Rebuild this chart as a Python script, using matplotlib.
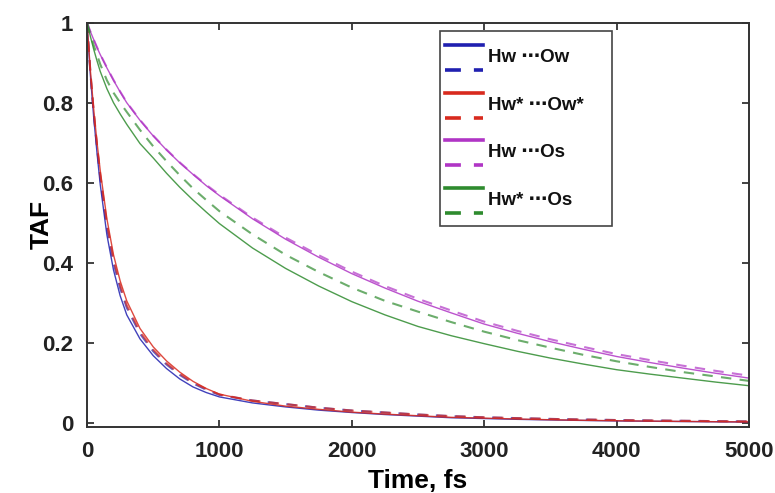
import matplotlib.pyplot as plt
from matplotlib.patches import Rectangle

plt.rcParams['font.family'] = ['Liberation Sans', 'DejaVu Sans']

# время, фс
t = [0, 25, 50, 75, 100, 150, 200, 250, 300, 400, 500, 600, 700, 800, 900, 1000,
     1250, 1500, 1750, 2000, 2250, 2500, 2750, 3000, 3250, 3500, 3750, 4000,
     4250, 4500, 4750, 5000]

# быстрые кривые (Hw...Ow, Hw*...Ow*)
hw_ow = [1.0, 0.87, 0.765, 0.676, 0.595, 0.47, 0.382, 0.318, 0.27, 0.21, 0.168, 0.136,
         0.11, 0.09, 0.076, 0.065, 0.05, 0.04, 0.032, 0.026, 0.021, 0.017, 0.013, 0.011,
         0.009, 0.0075, 0.0062, 0.005, 0.0042, 0.0035, 0.0028, 0.0022]
hw_ow_d = [1.0, 0.876, 0.775, 0.69, 0.613, 0.49, 0.4, 0.337, 0.288, 0.223, 0.179, 0.146,
           0.12, 0.099, 0.083, 0.07, 0.056, 0.047, 0.038, 0.031, 0.026, 0.021, 0.017, 0.014,
           0.012, 0.01, 0.0085, 0.0072, 0.0062, 0.0053, 0.0045, 0.0038]
hws_ows = [1.0, 0.882, 0.785, 0.702, 0.63, 0.51, 0.42, 0.355, 0.305, 0.236, 0.19, 0.155,
           0.127, 0.104, 0.086, 0.072, 0.054, 0.042, 0.034, 0.027, 0.022, 0.018, 0.014, 0.012,
           0.0098, 0.008, 0.0066, 0.0055, 0.0046, 0.0038, 0.0031, 0.0025]
hws_ows_d = [1.0, 0.879, 0.78, 0.696, 0.62, 0.498, 0.408, 0.344, 0.294, 0.228, 0.183, 0.149,
             0.123, 0.101, 0.085, 0.071, 0.056, 0.047, 0.038, 0.031, 0.026, 0.021, 0.017, 0.014,
             0.012, 0.01, 0.0085, 0.0072, 0.0062, 0.0053, 0.0045, 0.0038]

# медленные кривые (Hw...Os, Hw*...Os)
hw_os = [1.0, 0.978, 0.958, 0.938, 0.92, 0.887, 0.856, 0.827, 0.8, 0.756, 0.717, 0.682,
         0.65, 0.621, 0.593, 0.568, 0.51, 0.459, 0.414, 0.373, 0.337, 0.304, 0.275, 0.247,
         0.224, 0.203, 0.184, 0.166, 0.151, 0.137, 0.124, 0.112]
hw_os_d = [1.0, 0.978, 0.958, 0.939, 0.921, 0.888, 0.857, 0.828, 0.801, 0.757, 0.718, 0.683,
           0.651, 0.622, 0.595, 0.57, 0.513, 0.463, 0.419, 0.378, 0.342, 0.31, 0.281, 0.253,
           0.23, 0.209, 0.19, 0.172, 0.157, 0.143, 0.13, 0.118]
hws_os = [1.0, 0.966, 0.934, 0.905, 0.878, 0.835, 0.8, 0.772, 0.746, 0.698, 0.662, 0.624,
          0.589, 0.557, 0.527, 0.498, 0.437, 0.386, 0.342, 0.303, 0.27, 0.241, 0.218, 0.198,
          0.179, 0.162, 0.147, 0.133, 0.122, 0.112, 0.102, 0.093]
hws_os_d = [1.0, 0.97, 0.944, 0.92, 0.896, 0.856, 0.825, 0.8, 0.777, 0.732, 0.691, 0.654,
            0.619, 0.586, 0.557, 0.529, 0.471, 0.42, 0.377, 0.338, 0.305, 0.278, 0.252, 0.228,
            0.207, 0.188, 0.17, 0.154, 0.14, 0.127, 0.116, 0.105]

labels = ['Hw \u22efOw', 'Hw* \u22efOw*', 'Hw \u22efOs', 'Hw* \u22efOs']
colors = ['#2020b0', '#d82a1e', '#b035c5', '#2e8b2e']
series = [(hw_ow, hw_ow_d), (hws_ows, hws_ows_d), (hw_os, hw_os_d), (hws_os, hws_os_d)]

fig = plt.figure(figsize=(7.75, 4.93), dpi=100)
ax = fig.add_axes([0.1123, 0.134, 0.8542, 0.82])

for (solid, dashed), c in zip(series, colors):
    ax.plot(t, solid, color=c, lw=1.0, alpha=0.85)
    ax.plot(t, dashed, color=c, lw=1.5, alpha=0.7, linestyle=(0, (5, 4)))

ax.set_xlim(0, 5000)
ax.set_ylim(-0.01, 1)
ax.set_xticks([0, 1000, 2000, 3000, 4000, 5000])
ax.set_yticks([0, 0.2, 0.4, 0.6, 0.8, 1])
ax.set_yticklabels(['0', '0.2', '0.4', '0.6', '0.8', '1'])
ax.tick_params(direction='in', top=True, right=True, length=5, width=1.2,
               labelsize=16, colors='#222222')
ax.tick_params(axis='x', pad=10)
ax.tick_params(axis='y', pad=10)
for lab in ax.get_xticklabels() + ax.get_yticklabels():
    lab.set_fontweight('bold')
for s in ax.spines.values():
    s.set_linewidth(1.4)
    s.set_color('#333333')

ax.set_xlabel('Time, fs', fontsize=19, fontweight='bold', labelpad=5)
ax.set_ylabel('TAF', fontsize=19, fontweight='bold', labelpad=-8)

# легенда: сплошная и пунктирная линии друг над другом
ax.add_patch(Rectangle((0.533, 0.497), 0.26, 0.482, transform=ax.transAxes,
                       facecolor='white', edgecolor='#444444', lw=1.2, zorder=5))
x0, x1 = 0.541, 0.598
for i, (lab, c) in enumerate(zip(labels, colors)):
    y_s = 0.944 - i * 0.1175
    y_d = y_s - 0.062
    ax.plot([x0, x1], [y_s, y_s], transform=ax.transAxes, color=c, lw=2.6, zorder=6)
    ax.plot([x0, x1], [y_d, y_d], transform=ax.transAxes, color=c, lw=2.6,
            linestyle=(0, (4.4, 3.6)), zorder=6)
    ax.text(0.605, (y_s + y_d) / 2, lab, transform=ax.transAxes, fontsize=13.5,
            fontweight='bold', va='center', ha='left', color='#111111', zorder=7)

plt.savefig('out.png', dpi=100)
